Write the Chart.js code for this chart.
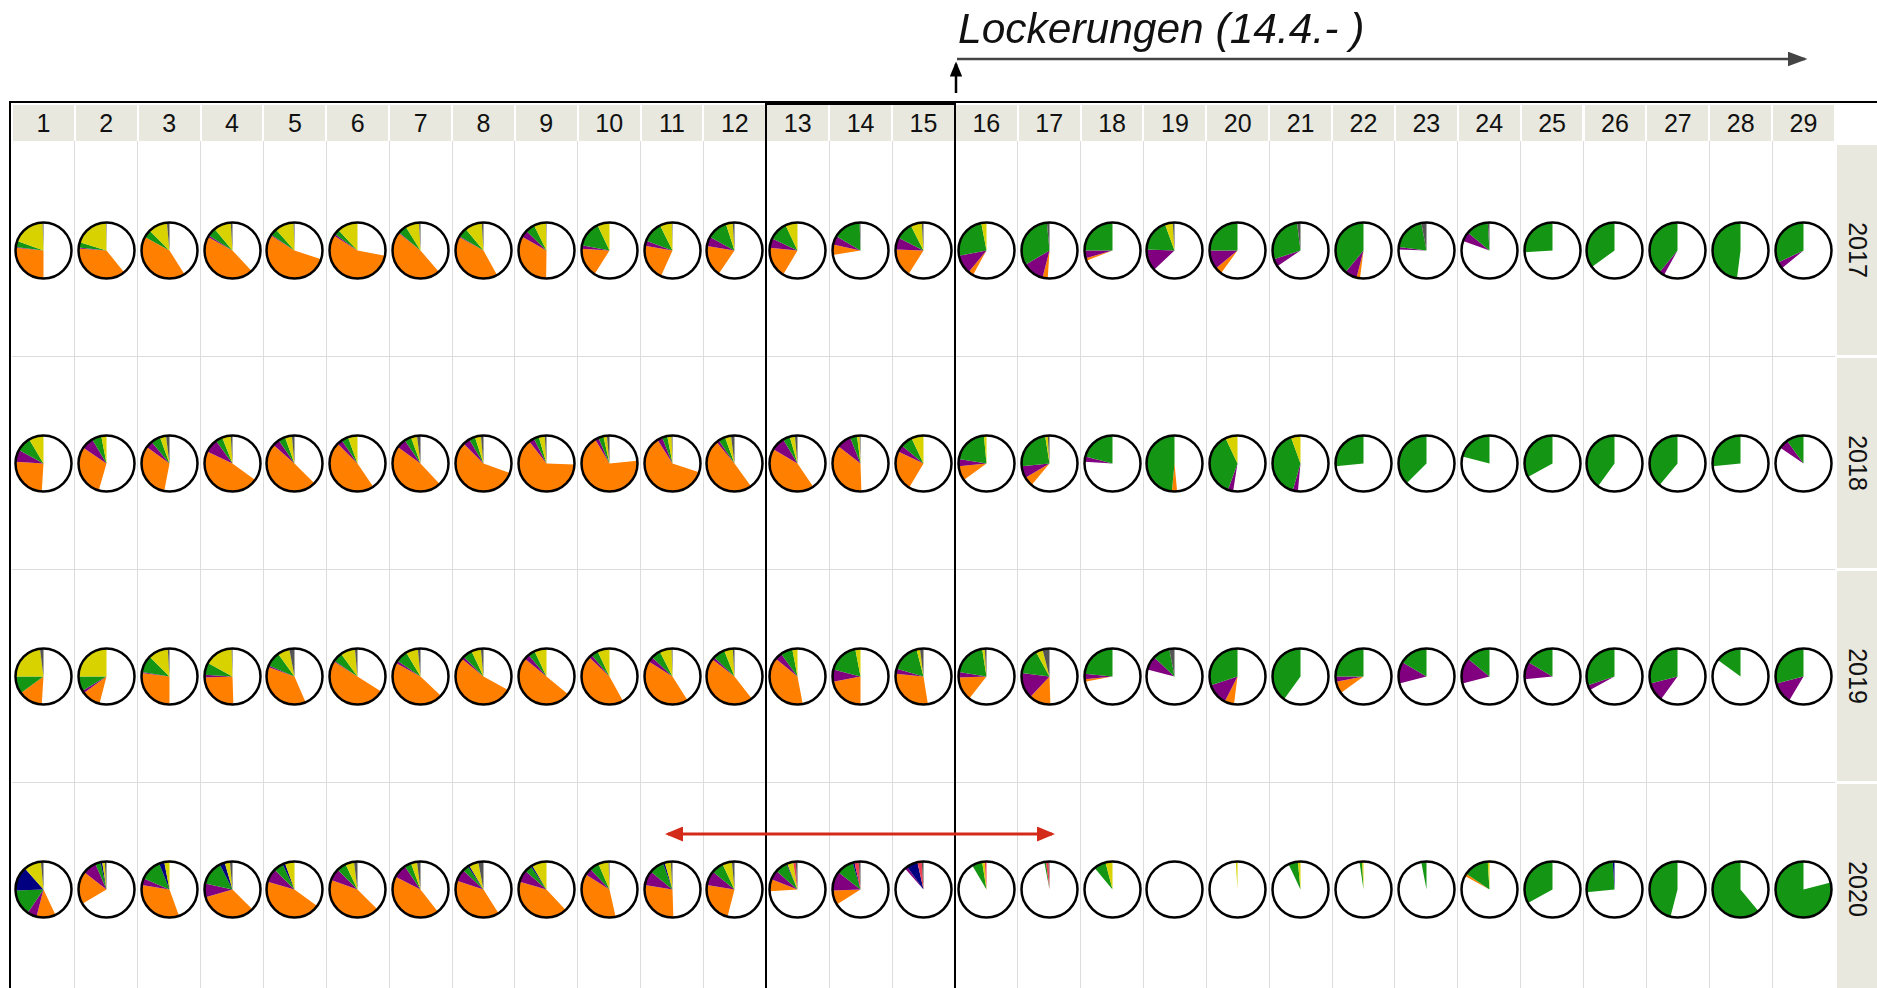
<!DOCTYPE html>
<html>
<head>
<meta charset="utf-8">
<script src="https://cdn.jsdelivr.net/npm/chart.js@4"></script>
<style>
  body { margin:0; width:1877px; height:988px; overflow:hidden; background:#fff; position:relative;
         font-family:"Liberation Sans", Arial, sans-serif; }
  .head { position:absolute; top:105px; height:36px; background:#e8e8de; font-size:25px;
          line-height:37px; text-align:center; color:#111; }
  .strip { position:absolute; left:1837px; width:40px; background:#e8e8de; font-size:25px; color:#111; }
  .strip span { position:absolute; left:50%; top:50%; transform:translate(-50%,-50%) rotate(90deg); }
  .vline { position:absolute; width:1px; background:#dcdcdc; top:141px; height:847px; }
  .hline { position:absolute; height:1px; background:#dcdcdc; left:12px; width:1823px; }
  canvas.pie { position:absolute; }
  svg { position:absolute; left:0; top:0; }
</style>
</head>
<body>
<div id="grid"></div>
<svg width="1877" height="988">
  <defs>
    <marker id="headGrey" markerWidth="8" markerHeight="6" refX="7" refY="3" orient="auto" markerUnits="strokeWidth">
      <path d="M0,0 L8,3 L0,6 Z" fill="#444"/>
    </marker>
    <marker id="headBlack" markerWidth="6" markerHeight="5" refX="5" refY="2.5" orient="auto" markerUnits="strokeWidth">
      <path d="M0,0 L6,2.5 L0,5 Z" fill="#000"/>
    </marker>
    <marker id="headRed" markerWidth="6" markerHeight="5" refX="5" refY="2.5" orient="auto-start-reverse" markerUnits="strokeWidth">
      <path d="M0,0 L6,2.5 L0,5 Z" fill="#d42a1a"/>
    </marker>
  </defs>
  <line x1="10" y1="102" x2="1877" y2="102" stroke="#000" stroke-width="2"/>
  <line x1="10" y1="101" x2="10" y2="988" stroke="#000" stroke-width="2"/>
  <rect x="766" y="104" width="189" height="890" fill="none" stroke="#000" stroke-width="2"/>
  <text x="958" y="43" font-size="42.5" font-style="italic" fill="#111"
        font-family="Liberation Sans, Arial, sans-serif">Lockerungen (14.4.- )</text>
  <line x1="957" y1="59" x2="1805" y2="59" stroke="#444" stroke-width="2.5" marker-end="url(#headGrey)"/>
  <line x1="956" y1="93" x2="956" y2="64" stroke="#000" stroke-width="2.5" marker-end="url(#headBlack)"/>
  <line x1="668" y1="834" x2="1052" y2="834" stroke="#d42a1a" stroke-width="3"
        marker-start="url(#headRed)" marker-end="url(#headRed)"/>
</svg>
<script>
const spalten = Array.from({ length: 29 }, (_, i) => String(i + 1));
const jahre = ['2017', '2018', '2019', '2020'];

// Anteile in Prozent, je Jahr eine Zeile mit 29 Werten
const grau = [
  [0.5,0.3,1.5,1,0.5,0,0.8,1,0.3,0, 0.3,1,0,0.5,1,0,1.5,0,1,0, 2,0,3,1,0,0,0,0,0],
  [0,0,2,1,1.5,0,2,1.5,1,1.5, 0.5,2,1.5,0.5,0,0,1,0,0,0, 0,0,0,0,0,0,0,0,0],
  [2,0,1,0.5,3,1.5,1.5,1.5,0,0, 0.5,1,0,0,2,1,4,0,3,0, 0,0,0,0,0,0,0,0,0],
  [1.5,1,0,1.5,0,2,2,3,0,0.5, 1,1.5,1,1,1,0,0.5,0,0,0, 0,0,0,0,0,0,0,0,0]
];
const rot = [
  [0,0,0,0,0,0,0,0,0,0, 0,0,0,0,0,0,0,0,0,0, 0,0,0,0,0,0,0,0,0],
  [0,0,0,0,0,0,0,0,0,0, 0,0,0,0,0,0,0,0,0,0, 0,0,0,0,0,0,0,0,0],
  [0,0,0,0,0,0,0,0,0,0, 0,0,0,0,0,0,0,0,0,0, 0,0,0,0,0,0,0,0,0],
  [0,0,0,0,0,0,0,0,0,0, 0,0,1.5,2.5,2.5,1,1.5,0,0,0, 0,0,0,0,0,0,0,0,0]
];
const gelb = [
  [19,20,11,10,11,12,8,10,7,7, 7,4,7,0,6.5,3,0,0,4.5,0, 0,0,0,0,0,0,0,0,0],
  [8.5,3,3.5,5,4,5.5,3.5,3.5,3.5,2, 2.5,3.5,3,1.5,7,1.5,1.5,0,0,7, 5.5,0,0,0,0,0,0,0,0],
  [23,25,11.5,16.5,7,8.5,7,5.5,7,7, 7,5,3,3,2,1.5,4,0,0,0, 0,0,0,0,0,0,0,0,0],
  [10,1.5,3,3,5.5,5,3.5,5.5,8.5,6, 3.5,5.5,3.5,0,0,1.5,0,4,0,1, 1.5,0.8,0,1,0,0,0,0,0]
];
const blau = [
  [0,0,0,0,0,0,0,0,0,0, 0,0,0,0,0,0,0,0,0,0, 0,0,0,0,0,0,0,0,0],
  [0,0,0,0,0,0,0,0,0,0, 0,0,0,0,0,0,0,0,0,0, 0,0,0,0,0,0,0,0,0],
  [0,0,0,0,0,0,0,0,0,0, 0,0,0,0,0,0,0,0,0,0, 0,0,0,0,0,0,0,0,0],
  [14,1,3,3,1.5,0,0,1,1,0, 1,0,0.5,1,6.5,0,0,0,0,0, 0,0,0,0,0,1,0,0,0]
];
const gruen = [
  [3.5,3,4.5,5,4,3,5,5.5,5.5,15, 12,12,11,16,10,25,32,25,19,25, 28,39,20,13,26,35,39,48,32],
  [8.5,5.5,5.5,4,4,4,4,3.5,3,3, 3,4,4,4,7,21,24,21,48.5,37.5, 40,26.5,37.5,21,33,40,39,26.5,10],
  [10,8.5,10,7,8.5,5.5,7,5.5,4,4, 5.5,7,7,18,16.5,20,15,23.5,10,30, 40,25,16.5,14,16.5,30,29,15,29],
  [15,3,12.5,14,5.5,5.5,4,3.5,4,5.5, 8.5,7,7,10,0,6,1,7,0,0, 5.5,1.5,3,14.5,33,25.5,46,61,79]
];
const lila = [
  [0.5,0.5,0,1,0.5,1,0.5,0.5,4,2, 3,5.5,5.5,5,7,11,12.5,4.5,12.5,11, 4.5,7,1.5,5.5,0,0,3,0,4],
  [7,7,4,8,4,3,5.5,4,3,2, 3,1.5,8,8.5,4,4,7,3,0,3, 3,0,0,0,0,0,0,0,5.5],
  [0,1.5,0.5,1.5,1,0.5,1.5,1.5,3,2, 3,1.5,4,7,3,3,15,3,8,12.5, 0,3,12.5,15,10,3,11,0,12.5],
  [5.5,8,4,8,8,7,8,7,7,4, 8.5,8.5,5.5,11,1.5,0,0,0,0,0, 0,0,0,0,0,0,0,0,0]
];
const orange = [
  [26.5,37,42,45,54,56,47,41,33,17, 21,18,18,6,16.5,3,3,1.5,0,4, 0,2,0,0,0,0,0,0,0],
  [25,30,32,47,49,47,47,57,64,68, 61,49,43,36,23.5,8.5,5.5,0,3,0, 0,0,0,0,0,0,0,0,0],
  [14,11,27,25,37,50,46,53,50,45, 43,46,39,22,29,14,12.5,1.5,0,5.5, 0,7,0,0,0,0,0,0,0],
  [11,19,33,33,44.5,43,43,39,41.5,37.5, 28,23.5,7,8.5,0,0,0,0,0,0, 0,0,0,1.5,0,0,0,0,0]
];

// Layout
const x0 = 12, colW = 62.86, y0 = 144, rowH = 213;
const grid = document.getElementById('grid');

// Spaltenköpfe
spalten.forEach((s, i) => {
  const d = document.createElement('div');
  d.className = 'head';
  d.style.left = (x0 + i * colW + 1) + 'px';
  d.style.width = (colW - 2) + 'px';
  d.textContent = s;
  grid.appendChild(d);
  if (i > 0) {
    const v = document.createElement('div');
    v.className = 'vline';
    v.style.left = (x0 + i * colW - 0.5) + 'px';
    grid.appendChild(v);
  }
});

// Jahresstreifen rechts + Zeilenlinien
jahre.forEach((j, r) => {
  const d = document.createElement('div');
  d.className = 'strip';
  d.style.top = (y0 + r * rowH + 1) + 'px';
  d.style.height = (rowH - 3) + 'px';
  d.innerHTML = '<span>' + j + '</span>';
  grid.appendChild(d);
  if (r > 0) {
    const h = document.createElement('div');
    h.className = 'hline';
    h.style.top = (y0 + r * rowH - 1) + 'px';
    grid.appendChild(h);
  }
});

// Kreisrand
const ring = {
  id: 'ring',
  afterDatasetsDraw(chart) {
    const a = chart.getDatasetMeta(0).data[0];
    const ctx = chart.ctx;
    ctx.save();
    ctx.beginPath();
    ctx.arc(a.x, a.y, a.outerRadius, 0, Math.PI * 2);
    ctx.lineWidth = 2.5;
    ctx.strokeStyle = '#000';
    ctx.stroke();
    ctx.restore();
  }
};

const farben = ['#ffffff', '#ff8000', '#800080', '#149614', '#000080', '#d8d200', '#ee4050', '#555555'];
const size = 61;

jahre.forEach((j, r) => {
  spalten.forEach((s, c) => {
    const teile = [orange[r][c], lila[r][c], gruen[r][c], blau[r][c], gelb[r][c], rot[r][c], grau[r][c]];
    const rest = Math.max(0, 100 - teile.reduce((a, b) => a + b, 0));
    const cv = document.createElement('canvas');
    cv.className = 'pie';
    cv.width = size; cv.height = size;
    cv.style.left = (x0 + (c + 0.5) * colW - size / 2) + 'px';
    cv.style.top = (y0 + r * rowH + 106 - size / 2) + 'px';
    grid.appendChild(cv);
    new Chart(cv.getContext('2d'), {
      type: 'pie',
      data: {
        labels: ['leer', 'orange', 'lila', 'grün', 'blau', 'gelb', 'rot', 'grau'],
        datasets: [{
          data: [rest].concat(teile),
          backgroundColor: farben,
          borderWidth: 0
        }]
      },
      options: {
        responsive: false,
        animation: false,
        devicePixelRatio: 1,
        layout: { padding: 2.5 },
        plugins: { legend: { display: false }, tooltip: { enabled: false } }
      },
      plugins: [ring]
    });
  });
});
</script>
</body>
</html>
